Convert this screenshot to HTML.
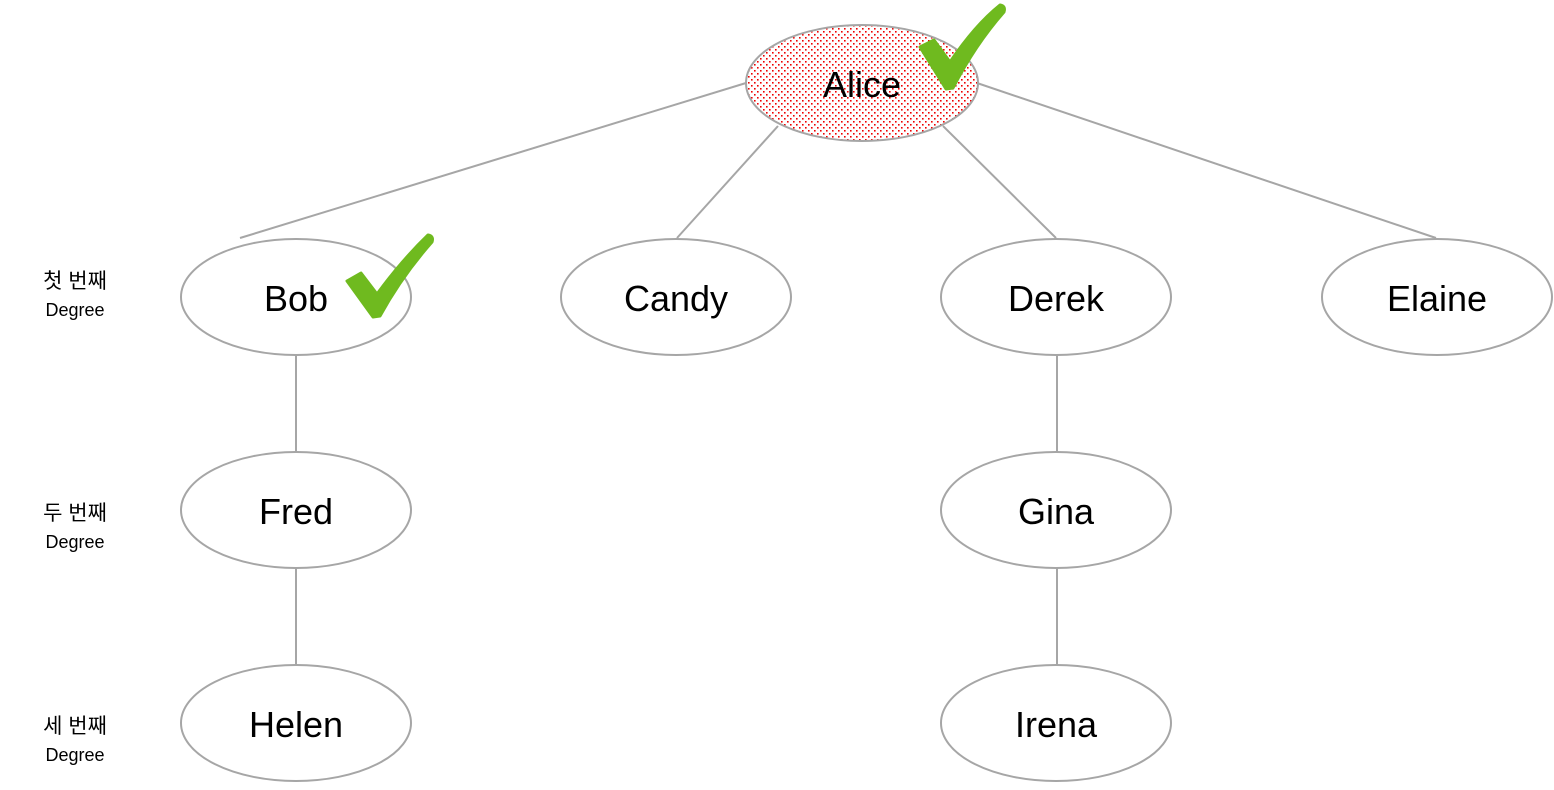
<!DOCTYPE html>
<html><head><meta charset="utf-8"><style>
body{margin:0;background:#fff;}
svg text{font-family:"Liberation Sans","Noto Sans CJK KR",sans-serif;}
</style></head><body>
<svg width="1554" height="785" viewBox="0 0 1554 785" xmlns="http://www.w3.org/2000/svg">
<defs>
<pattern id="dots" width="6" height="6" patternUnits="userSpaceOnUse">
<rect x="1" y="1" width="1.6" height="1.6" fill="#e00"/>
<rect x="4" y="4" width="1.6" height="1.6" fill="#e00"/>
</pattern>
</defs>
<g stroke="#a6a6a6" stroke-width="2" fill="none">
<line x1="746" y1="83" x2="240" y2="238"/>
<line x1="778" y1="126" x2="677" y2="238"/>
<line x1="943" y1="126" x2="1056" y2="238"/>
<line x1="977" y1="83" x2="1436" y2="238"/>
<line x1="296" y1="355" x2="296" y2="452"/>
<line x1="296" y1="568" x2="296" y2="665"/>
<line x1="1057" y1="355" x2="1057" y2="452"/>
<line x1="1057" y1="568" x2="1057" y2="665"/>
</g>
<ellipse cx="862" cy="83" rx="116" ry="58" fill="url(#dots)" stroke="#a6a6a6" stroke-width="2"/>
<g fill="#fff" stroke="#a6a6a6" stroke-width="2">
<ellipse cx="296" cy="297" rx="115" ry="58"/>
<ellipse cx="676" cy="297" rx="115" ry="58"/>
<ellipse cx="1056" cy="297" rx="115" ry="58"/>
<ellipse cx="1437" cy="297" rx="115" ry="58"/>
<ellipse cx="296" cy="510" rx="115" ry="58"/>
<ellipse cx="1056" cy="510" rx="115" ry="58"/>
<ellipse cx="296" cy="723" rx="115" ry="58"/>
<ellipse cx="1056" cy="723" rx="115" ry="58"/>
</g>
<g font-size="36" text-anchor="middle" fill="#000">
<text x="862" y="97">Alice</text>
<text x="296" y="311">Bob</text>
<text x="676" y="311">Candy</text>
<text x="1056" y="311">Derek</text>
<text x="1437" y="311">Elaine</text>
<text x="296" y="524">Fred</text>
<text x="1056" y="524">Gina</text>
<text x="296" y="737">Helen</text>
<text x="1056" y="737">Irena</text>
</g>
<g text-anchor="middle" fill="#000">
<text x="75" y="288" font-size="21">첫 번째</text>
<text x="75" y="316" font-size="18">Degree</text>
<text x="75" y="520" font-size="21">두 번째</text>
<text x="75" y="548" font-size="18">Degree</text>
<text x="75" y="733" font-size="21">세 번째</text>
<text x="75" y="761" font-size="18">Degree</text>
</g>
<g fill="#6fba1f" stroke="#6fba1f" stroke-width="3" stroke-linejoin="round">
<path d="M920,47 L934,40 L950,62 Q975,25 1000,5 Q1006,6 1004,12 Q975,45 953,88 L946,89 Z"/>
<path d="M347,281 L361,273 L377,294 Q402,260 428,235 Q434,236 432,242 Q402,276 380,316 L373,317 Z"/>
</g>
</svg>
</body></html>
